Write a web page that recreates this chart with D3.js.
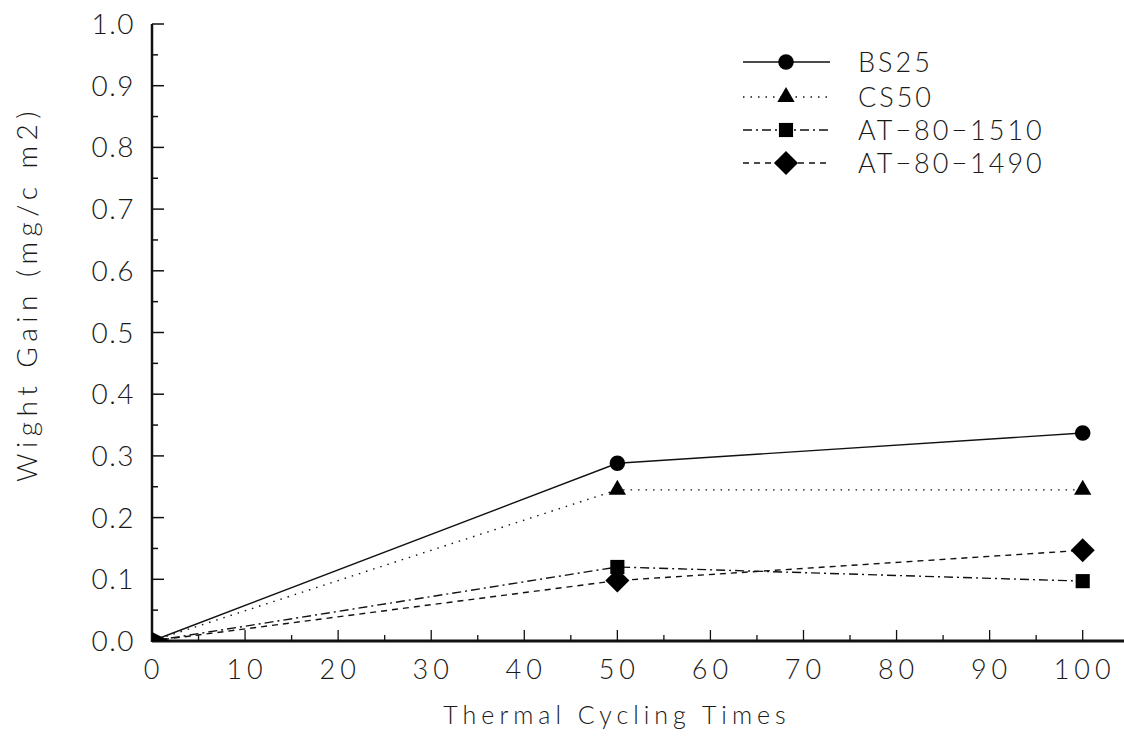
<!DOCTYPE html>
<html><head><meta charset="utf-8">
<script src="https://cdn.jsdelivr.net/npm/d3@7"></script>
<style>body{margin:0;background:#fff;} text{font-family:Lato,"Open Sans",sans-serif;font-weight:300;fill:#1a1a1a;}</style>
</head><body>
<svg id="c" width="1124" height="742"></svg>
<script>
const cycles = [0, 50, 100];
const seriesNames = ["BS25", "CS50", "AT\u221280\u22121510", "AT\u221280\u22121490"];
const bs25 = [0, 0.288, 0.337];
const cs50 = [0, 0.245, 0.245];
const at1510 = [0, 0.120, 0.097];
const at1490 = [0, 0.098, 0.147];
const xTicks = [0,10,20,30,40,50,60,70,80,90,100];
const yTicks = [0,0.1,0.2,0.3,0.4,0.5,0.6,0.7,0.8,0.9,1.0];

const values = [bs25, cs50, at1510, at1490];
const dashes = [null, "1.5,6", "9,4,2,4", "6,5"];
const diamond = {draw(ctx,size){const r=Math.sqrt(size/2);ctx.moveTo(0,-r);ctx.lineTo(r,0);ctx.lineTo(0,r);ctx.lineTo(-r,0);ctx.closePath();}};
const markers = [d3.symbolCircle, d3.symbolTriangle, d3.symbolSquare, diamond];
const msize = [190, 130, 200, 290];

const svg = d3.select("#c");
const x = d3.scaleLinear().domain([0,100]).range([152,1082.7]);
const y = d3.scaleLinear().domain([0,1]).range([641,24]);

// axes
svg.append("line").attr("x1",152).attr("x2",1124).attr("y1",y(0)).attr("y2",y(0)).attr("stroke","#111").attr("stroke-width",3);
svg.append("line").attr("x1",152).attr("x2",152).attr("y1",y(0)+1).attr("y2",y(1)).attr("stroke","#111").attr("stroke-width",2.5);

// y ticks
const yMinor = d3.range(0.05,1,0.1);
svg.selectAll(".ytm").data(yTicks).join("line").attr("x1",152).attr("x2",164).attr("y1",d=>y(d)).attr("y2",d=>y(d)).attr("stroke","#111").attr("stroke-width",1.5);
svg.selectAll(".ytn").data(yMinor).join("line").attr("x1",152).attr("x2",158).attr("y1",d=>y(d)).attr("y2",d=>y(d)).attr("stroke","#111").attr("stroke-width",1.5);
svg.selectAll(".ytl").data(yTicks).join("text").attr("x",135).attr("y",d=>y(d)+10).attr("text-anchor","end")
  .attr("font-size",28).attr("letter-spacing",1.5).text(d=>d.toFixed(1));

// x ticks
const xMinor = d3.range(5,100,10);
svg.selectAll(".xtm").data(xTicks).join("line").attr("x1",d=>x(d)).attr("x2",d=>x(d)).attr("y1",y(0)).attr("y2",y(0)-11).attr("stroke","#111").attr("stroke-width",1.3);
svg.selectAll(".xtn").data(xMinor).join("line").attr("x1",d=>x(d)).attr("x2",d=>x(d)).attr("y1",y(0)).attr("y2",y(0)-6).attr("stroke","#111").attr("stroke-width",1.3);
svg.selectAll(".xtl").data(xTicks).join("text").attr("x",d=>x(d)+2).attr("y",y(0)+38).attr("text-anchor","middle")
  .attr("font-size",27).attr("letter-spacing",5).text(d=>d);

// axis titles
svg.append("text").attr("x",617).attr("y",724).attr("text-anchor","middle").attr("font-size",25).attr("letter-spacing",5).text("Thermal Cycling Times");
svg.append("text").attr("transform","translate(37,294) rotate(-90)").attr("text-anchor","middle").attr("font-size",28).attr("letter-spacing",5.5).text("Wight Gain  (mg/c m2)");

// series
const line = d3.line().x((d,i)=>x(cycles[i])).y(d=>y(d));
values.forEach((vals,k)=>{
  svg.append("path").datum(vals).attr("d",line).attr("fill","none").attr("stroke","#111")
    .attr("stroke-width",1.4).attr("stroke-dasharray",dashes[k]);
  svg.selectAll(".m"+k).data(vals.slice(1)).join("path")
    .attr("transform",(d,i)=>`translate(${x(cycles[i+1])},${y(d)})`)
    .attr("d",d3.symbol().type(markers[k]).size(msize[k])).attr("fill","#000");
});
// origin blob
svg.append("path").attr("d",`M152,${y(0)} L152,${y(0)-9} L170,${y(0)} Z`).attr("fill","#000");

// legend
const ly = [62, 97, 130, 163];
seriesNames.forEach((n,k)=>{
  svg.append("line").attr("x1",743).attr("x2",830).attr("y1",ly[k]).attr("y2",ly[k]).attr("stroke","#111")
    .attr("stroke-width",1.4).attr("stroke-dasharray",dashes[k]);
  svg.append("path").attr("transform",`translate(786,${ly[k]})`).attr("d",d3.symbol().type(markers[k]).size(msize[k])).attr("fill","#000");
  svg.append("text").attr("x",858).attr("y",ly[k]+10).attr("font-size",27).attr("letter-spacing",3).text(n);
});
</script>
</body></html>
